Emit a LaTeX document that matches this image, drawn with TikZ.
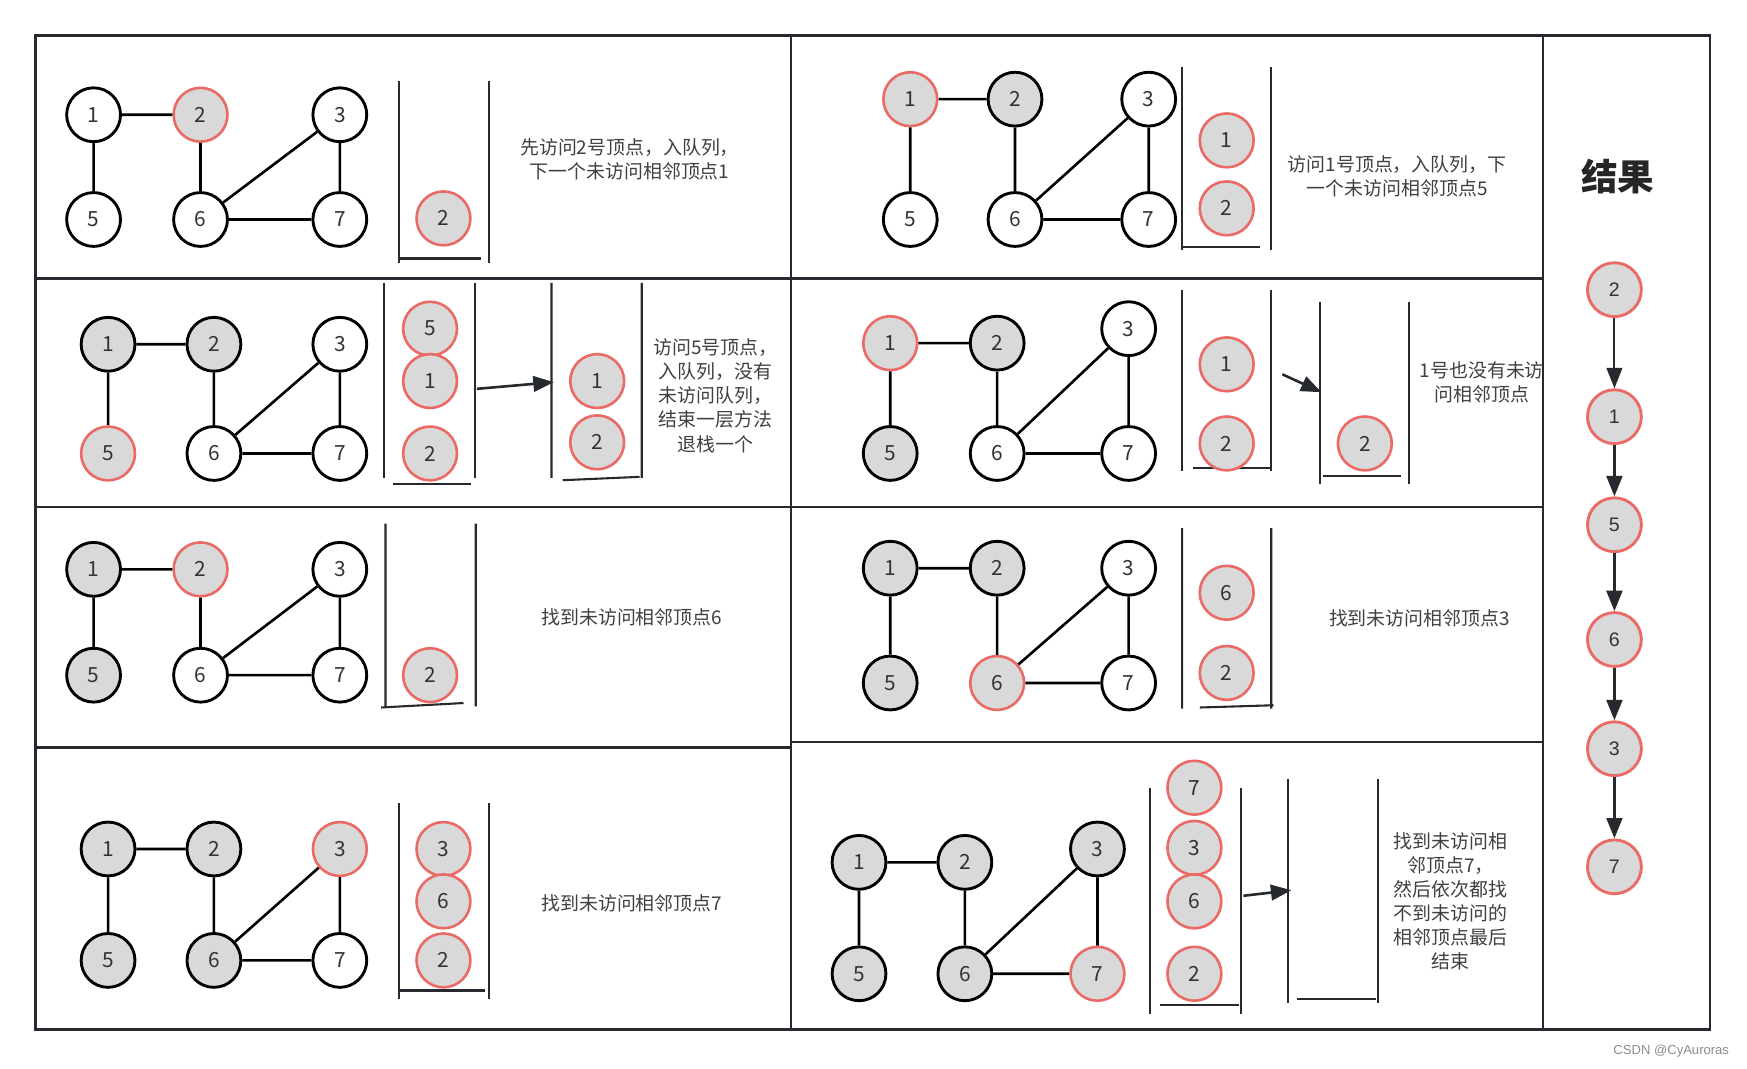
\documentclass[tikz,border=0pt]{standalone}
\usepackage{fontspec}
\setmainfont{Noto Sans CJK SC}
\newfontfamily\resfont{Liberation Sans}
\usetikzlibrary{arrows.meta,positioning}
\definecolor{visgray}{RGB}{217,217,217}
\definecolor{curred}{RGB}{234,107,102}
\definecolor{framedark}{RGB}{38,42,46}
\definecolor{notegray}{RGB}{64,64,64}
\tikzset{
  vtx/.style={
    circle, draw=black, line width=2.2pt, fill=white,
    minimum size=1.45cm, inner sep=0pt,
    font=\fontsize{16}{18}\selectfont, text=black!80
  },
  vtxV/.style={vtx, fill=visgray},
  vtxC/.style={vtx, fill=visgray, draw=curred, line width=2pt},
  item/.style={vtxC},
  resnode/.style={vtxC, line width=2.2pt,
    font=\resfont\fontsize{15}{17}\selectfont},
  edge/.style={line width=2pt, black},
  stackline/.style={line width=1.6pt, draw=framedark},
  panel/.style={line width=1.8pt, draw=framedark},
  note/.style={align=center, text=notegray,
    font=\fontsize{14.5}{18.5}\selectfont},
  arrow/.style={-{Triangle[length=0.55cm,width=0.42cm]},
    line width=2pt, draw=framedark}
}

\begin{document}
\begin{tikzpicture}[x=0.03cm, y=-0.03cm]
\useasboundingbox (0,0) rectangle (1568,959);
\fill[white] (0,0) rectangle (1568,959);

% panels
\draw[panel] (32,32) rectangle (710,250);
\draw[panel] (32,250) rectangle (710,455);
\draw[panel] (32,455) rectangle (710,671);
\draw[panel] (32,671) rectangle (710,924);
\draw[panel] (710,32) rectangle (1385,250);
\draw[panel] (710,250) rectangle (1385,455);
\draw[panel] (710,455) rectangle (1385,666);
\draw[panel] (710,666) rectangle (1385,924);
\draw[panel] (1385,32) rectangle (1535,924);

% step 1: visit 2
\node[vtx]  (a1) at (84,103)  {1};
\node[vtxC] (a2) at (180,103) {2};
\node[vtx]  (a3) at (305,103) {3};
\node[vtx]  (a5) at (84,197)  {5};
\node[vtx]  (a6) at (180,197) {6};
\node[vtx]  (a7) at (305,197) {7};
\draw[edge] (a1) -- (a2) (a1) -- (a5) (a2) -- (a6)
            (a6) -- (a3) (a3) -- (a7) (a6) -- (a7);
\draw[stackline] (358,73) -- (358,236) (439,73) -- (439,236)
                 (358,232) -- (432,232);
\node[item] (as2) at (398,196) {2};
\node[note] (an) at (565,143)
  {先访问2号顶点，入队列，\\下一个未访问相邻顶点1};

% step 2: visit 1
\node[vtxC] (b1) at (817,89)   {1};
\node[vtxV] (b2) at (911,89)   {2};
\node[vtx]  (b3) at (1031,89)  {3};
\node[vtx]  (b5) at (817,197)  {5};
\node[vtx]  (b6) at (911,197)  {6};
\node[vtx]  (b7) at (1031,197) {7};
\draw[edge] (b1) -- (b2) (b1) -- (b5) (b2) -- (b6)
            (b6) -- (b3) (b3) -- (b7) (b6) -- (b7);
\draw[stackline] (1061,60) -- (1061,224) (1141,60) -- (1141,224)
                 (1061,222) -- (1131,222);
\node[item] (bs1) at (1101,126) {1};
\node[item] (bs2) at (1101,187) {2};
\node[note] (bn) at (1254,158)
  {访问1号顶点，入队列，下\\一个未访问相邻顶点5};

% step 3: visit 5, pop
\node[vtxV] (c1) at (97,309)  {1};
\node[vtxV] (c2) at (192,309) {2};
\node[vtx]  (c3) at (305,309) {3};
\node[vtxC] (c5) at (97,407)  {5};
\node[vtx]  (c6) at (192,407) {6};
\node[vtx]  (c7) at (305,407) {7};
\draw[edge] (c1) -- (c2) (c1) -- (c5) (c2) -- (c6)
            (c6) -- (c3) (c3) -- (c7) (c6) -- (c7);
\draw[stackline] (345,254) -- (345,429) (426,254) -- (426,429)
                 (353,434) -- (423,434);
\node[item] (cs5) at (386,295) {5};
\node[item] (cs1) at (386,342) {1};
\node[item] (cs2) at (386,407) {2};
\coordinate (cA) at (428,349);
\coordinate (cB) at (497,343);
\draw[arrow] (cA) -- (cB);
\draw[stackline] (495,254) -- (495,429) (576,254) -- (576,429)
                 (505,431) -- (574,428);
\node[item] (ct1) at (536,342) {1};
\node[item] (ct2) at (536,397) {2};
\node[note] (cn) at (642,355)
  {访问5号顶点，\\入队列，没有\\未访问队列，\\结束一层方法\\退栈一个};

% step 4: back to 1, pop
\node[vtxC] (d1) at (799,308)  {1};
\node[vtxV] (d2) at (895,308)  {2};
\node[vtx]  (d3) at (1013,295) {3};
\node[vtxV] (d5) at (799,407)  {5};
\node[vtx]  (d6) at (895,407)  {6};
\node[vtx]  (d7) at (1013,407) {7};
\draw[edge] (d1) -- (d2) (d1) -- (d5) (d2) -- (d6)
            (d6) -- (d3) (d3) -- (d7) (d6) -- (d7);
\draw[stackline] (1061,260) -- (1061,423) (1141,260) -- (1141,423)
                 (1071,420) -- (1141,420);
\node[item] (ds1) at (1101,327) {1};
\node[item] (ds2) at (1101,398) {2};
\coordinate (dA) at (1151,336);
\coordinate (dB) at (1186,352);
\draw[arrow] (dA) -- (dB);
\draw[stackline] (1185,271) -- (1185,434) (1265,271) -- (1265,434)
                 (1187,427) -- (1257,427);
\node[item] (dt2) at (1225,398) {2};
\node[note] (dn) at (1330,343) {1号也没有未访\\问相邻顶点};

% step 5: find 6
\node[vtxV] (e1) at (84,511)  {1};
\node[vtxC] (e2) at (180,511) {2};
\node[vtx]  (e3) at (305,511) {3};
\node[vtxV] (e5) at (84,606)  {5};
\node[vtx]  (e6) at (180,606) {6};
\node[vtx]  (e7) at (305,606) {7};
\draw[edge] (e1) -- (e2) (e1) -- (e5) (e2) -- (e6)
            (e6) -- (e3) (e3) -- (e7) (e6) -- (e7);
\draw[stackline] (346,470) -- (346,634) (427,470) -- (427,634)
                 (342,635) -- (416,631);
\node[item] (es2) at (386,606) {2};
\node[note] (en) at (567,554) {找到未访问相邻顶点6};

% step 6: find 3
\node[vtxV] (f1) at (799,510)  {1};
\node[vtxV] (f2) at (895,510)  {2};
\node[vtx]  (f3) at (1013,510) {3};
\node[vtxV] (f5) at (799,613)  {5};
\node[vtxC] (f6) at (895,613)  {6};
\node[vtx]  (f7) at (1013,613) {7};
\draw[edge] (f1) -- (f2) (f1) -- (f5) (f2) -- (f6)
            (f6) -- (f3) (f3) -- (f7) (f6) -- (f7);
\draw[stackline] (1061,474) -- (1061,636) (1141,474) -- (1141,636)
                 (1077,635) -- (1143,633);
\node[item] (fs6) at (1101,532) {6};
\node[item] (fs2) at (1101,604) {2};
\node[note] (fn) at (1274,555) {找到未访问相邻顶点3};

% step 7: find 7
\node[vtxV] (g1) at (97,762)  {1};
\node[vtxV] (g2) at (192,762) {2};
\node[vtxC] (g3) at (305,762) {3};
\node[vtxV] (g5) at (97,862)  {5};
\node[vtxV] (g6) at (192,862) {6};
\node[vtx]  (g7) at (305,862) {7};
\draw[edge] (g1) -- (g2) (g1) -- (g5) (g2) -- (g6)
            (g6) -- (g3) (g3) -- (g7) (g6) -- (g7);
\draw[stackline] (358,721) -- (358,897) (439,721) -- (439,897)
                 (358,889) -- (435,889);
\node[item] (gs3) at (398,762) {3};
\node[item] (gs6) at (398,809) {6};
\node[item] (gs2) at (398,862) {2};
\node[note] (gn) at (567,811) {找到未访问相邻顶点7};

% step 8: visit 7, stack empties
\node[vtxV] (h1) at (771,774) {1};
\node[vtxV] (h2) at (866,774) {2};
\node[vtxV] (h3) at (985,762) {3};
\node[vtxV] (h5) at (771,874) {5};
\node[vtxV] (h6) at (866,874) {6};
\node[vtxC] (h7) at (985,874) {7};
\draw[edge] (h1) -- (h2) (h1) -- (h5) (h2) -- (h6)
            (h6) -- (h3) (h3) -- (h7) (h6) -- (h7);
\draw[stackline] (1032,707) -- (1032,910) (1114,707) -- (1114,910)
                 (1041,902) -- (1112,902);
\node[item] (hs7) at (1072,707) {7};
\node[item] (hs3) at (1072,761) {3};
\node[item] (hs6) at (1072,809) {6};
\node[item] (hs2) at (1072,874) {2};
\coordinate (hA) at (1116,804);
\coordinate (hB) at (1159,799);
\draw[arrow] (hA) -- (hB);
\draw[stackline] (1156,699) -- (1156,900) (1237,699) -- (1237,900)
                 (1164,897) -- (1235,897);
\node[note] (hn) at (1302,809)
  {找到未访问相\\邻顶点7，\\然后依次都找\\不到未访问的\\相邻顶点最后\\结束};

% result order
\node[font=\bfseries\fontsize{28}{30}\selectfont, text=black!85]
  (title) at (1452,158) {结果};
\node[resnode] (r2) at (1449,260) {2};
\node[resnode] (r1) at (1449,374) {1};
\node[resnode] (r5) at (1449,471) {5};
\node[resnode] (r6) at (1449,574) {6};
\node[resnode] (r3) at (1449,672) {3};
\node[resnode] (r7) at (1449,778) {7};
\draw[arrow, line width=1.6pt] (r2) -- (r1);
\draw[arrow, line width=2.4pt] (r1) -- (r5);
\draw[arrow, line width=2.4pt] (r5) -- (r6);
\draw[arrow, line width=2.4pt] (r6) -- (r3);
\draw[arrow, line width=2.4pt] (r3) -- (r7);

\node[font=\resfont\fontsize{10}{12}\selectfont, text=black!45]
  (mark) at (1500,943) {CSDN @CyAuroras};
\end{tikzpicture}
\end{document}
